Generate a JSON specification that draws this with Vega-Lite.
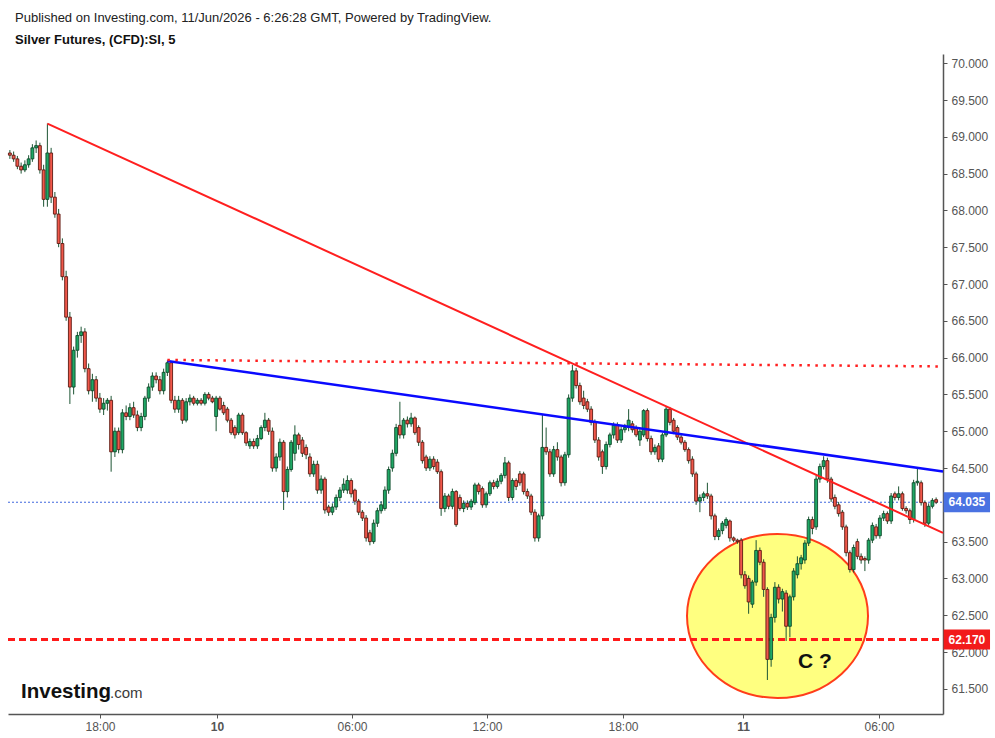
{
  "$schema": "https://vega.github.io/schema/vega-lite/v6.json",
  "width": 935,
  "height": 660,
  "autosize": "none",
  "padding": {"left": 8, "top": 54, "right": 52, "bottom": 24},
  "background": "white",
  "config": {
    "view": {"stroke": null},
    "font": "Liberation Sans",
    "axis": {"grid": false, "title": null, "labelFont": "Liberation Sans", "labelOverlap": false, "labelBound": false, "labelFlush": false}
  },
  "title": {
    "text": "Published on Investing.com, 11/Jun/2026 - 6:26:28 GMT, Powered by TradingView.",
    "subtitle": "Silver Futures, (CFD):SI, 5",
    "anchor": "start", "frame": "group", "dx": 7, "offset": 7,
    "font": "Liberation Sans", "fontSize": 13, "fontWeight": "normal", "color": "#222222",
    "subtitleFont": "Liberation Sans", "subtitleFontSize": 13, "subtitleFontWeight": "bold", "subtitleColor": "#111111", "subtitlePadding": 9
  },
  "datasets": {
    "candles": [
      {"t":0,"o":68.78,"h":68.82,"l":68.70,"c":68.75},{"t":1,"o":68.75,"h":68.80,"l":68.66,"c":68.70},{"t":2,"o":68.70,"h":68.74,"l":68.56,"c":68.60},{"t":3,"o":68.60,"h":68.65,"l":68.50,"c":68.55},
      {"t":4,"o":68.55,"h":68.68,"l":68.52,"c":68.62},{"t":5,"o":68.62,"h":68.75,"l":68.58,"c":68.70},{"t":6,"o":68.70,"h":68.90,"l":68.66,"c":68.85},{"t":7,"o":68.85,"h":68.95,"l":68.78,"c":68.88},
      {"t":8,"o":68.88,"h":68.92,"l":68.50,"c":68.55},{"t":9,"o":68.55,"h":68.62,"l":68.05,"c":68.15},{"t":10,"o":68.15,"h":69.18,"l":68.05,"c":68.78},{"t":11,"o":68.78,"h":68.85,"l":68.10,"c":68.18},
      {"t":12,"o":68.18,"h":68.25,"l":67.90,"c":67.95},{"t":13,"o":67.95,"h":68.02,"l":67.50,"c":67.55},{"t":14,"o":67.55,"h":67.62,"l":67.05,"c":67.10},{"t":15,"o":67.10,"h":67.18,"l":66.50,"c":66.55},
      {"t":16,"o":66.55,"h":66.62,"l":65.37,"c":65.60},{"t":17,"o":65.60,"h":66.15,"l":65.50,"c":66.10},{"t":18,"o":66.10,"h":66.35,"l":66.00,"c":66.30},{"t":19,"o":66.30,"h":66.42,"l":66.20,"c":66.35},
      {"t":20,"o":66.35,"h":66.40,"l":65.80,"c":65.85},{"t":21,"o":65.85,"h":65.92,"l":65.50,"c":65.55},{"t":22,"o":65.55,"h":65.78,"l":65.40,"c":65.70},{"t":23,"o":65.70,"h":65.75,"l":65.40,"c":65.45},
      {"t":24,"o":65.45,"h":65.52,"l":65.25,"c":65.30},{"t":25,"o":65.30,"h":65.45,"l":65.22,"c":65.38},{"t":26,"o":65.38,"h":65.45,"l":65.28,"c":65.42},{"t":27,"o":65.42,"h":65.48,"l":64.45,"c":64.72},
      {"t":28,"o":64.72,"h":65.05,"l":64.65,"c":65.00},{"t":29,"o":65.00,"h":65.05,"l":64.70,"c":64.75},{"t":30,"o":64.75,"h":65.30,"l":64.70,"c":65.25},{"t":31,"o":65.25,"h":65.35,"l":65.15,"c":65.20},
      {"t":32,"o":65.20,"h":65.38,"l":65.15,"c":65.32},{"t":33,"o":65.32,"h":65.40,"l":65.18,"c":65.22},{"t":34,"o":65.22,"h":65.28,"l":65.00,"c":65.05},{"t":35,"o":65.05,"h":65.25,"l":65.00,"c":65.20},
      {"t":36,"o":65.20,"h":65.48,"l":65.15,"c":65.45},{"t":37,"o":65.45,"h":65.65,"l":65.40,"c":65.60},{"t":38,"o":65.60,"h":65.80,"l":65.55,"c":65.75},{"t":39,"o":65.75,"h":65.80,"l":65.65,"c":65.70},
      {"t":40,"o":65.70,"h":65.75,"l":65.50,"c":65.55},{"t":41,"o":65.55,"h":65.85,"l":65.50,"c":65.80},{"t":42,"o":65.80,"h":65.96,"l":65.75,"c":65.93},{"t":43,"o":65.93,"h":65.95,"l":65.38,"c":65.42},
      {"t":44,"o":65.42,"h":65.48,"l":65.25,"c":65.30},{"t":45,"o":65.30,"h":65.48,"l":65.25,"c":65.42},{"t":46,"o":65.42,"h":65.45,"l":65.10,"c":65.15},{"t":47,"o":65.15,"h":65.45,"l":65.12,"c":65.40},
      {"t":48,"o":65.40,"h":65.50,"l":65.35,"c":65.45},{"t":49,"o":65.45,"h":65.48,"l":65.35,"c":65.38},{"t":50,"o":65.38,"h":65.45,"l":65.35,"c":65.42},{"t":51,"o":65.42,"h":65.45,"l":65.35,"c":65.38},
      {"t":52,"o":65.38,"h":65.53,"l":65.35,"c":65.50},{"t":53,"o":65.50,"h":65.53,"l":65.42,"c":65.45},{"t":54,"o":65.45,"h":65.48,"l":65.38,"c":65.40},{"t":55,"o":65.20,"h":65.48,"l":65.00,"c":65.45},
      {"t":56,"o":65.45,"h":65.48,"l":65.28,"c":65.30},{"t":57,"o":65.35,"h":65.40,"l":65.22,"c":65.25},{"t":58,"o":65.30,"h":65.33,"l":65.12,"c":65.15},{"t":59,"o":65.15,"h":65.18,"l":64.95,"c":64.98},
      {"t":60,"o":65.05,"h":65.08,"l":64.90,"c":64.95},{"t":61,"o":64.98,"h":65.25,"l":64.95,"c":65.22},{"t":62,"o":65.22,"h":65.25,"l":64.95,"c":64.98},{"t":63,"o":64.98,"h":65.00,"l":64.80,"c":64.84},
      {"t":64,"o":64.80,"h":64.90,"l":64.76,"c":64.86},{"t":65,"o":64.86,"h":64.90,"l":64.76,"c":64.80},{"t":66,"o":64.80,"h":64.95,"l":64.76,"c":64.90},{"t":67,"o":64.90,"h":65.08,"l":64.88,"c":65.05},
      {"t":68,"o":65.05,"h":65.25,"l":65.00,"c":65.15},{"t":69,"o":65.15,"h":65.18,"l":64.95,"c":65.00},{"t":70,"o":65.00,"h":65.05,"l":64.45,"c":64.50},{"t":71,"o":64.50,"h":64.70,"l":64.45,"c":64.65},
      {"t":72,"o":64.65,"h":64.90,"l":64.60,"c":64.85},{"t":73,"o":64.85,"h":64.88,"l":63.93,"c":64.18},{"t":74,"o":64.18,"h":64.52,"l":64.10,"c":64.48},{"t":75,"o":64.48,"h":64.88,"l":64.45,"c":64.85},
      {"t":76,"o":64.70,"h":65.08,"l":64.60,"c":64.95},{"t":77,"o":64.95,"h":64.98,"l":64.75,"c":64.82},{"t":78,"o":64.88,"h":64.92,"l":64.65,"c":64.70},{"t":79,"o":64.78,"h":64.82,"l":64.62,"c":64.68},
      {"t":80,"o":64.65,"h":64.70,"l":64.38,"c":64.42},{"t":81,"o":64.42,"h":64.60,"l":64.38,"c":64.55},{"t":82,"o":64.55,"h":64.60,"l":64.15,"c":64.20},{"t":83,"o":64.20,"h":64.40,"l":64.15,"c":64.35},
      {"t":84,"o":64.35,"h":64.38,"l":63.88,"c":63.93},{"t":85,"o":63.97,"h":64.00,"l":63.85,"c":63.90},{"t":86,"o":63.90,"h":64.02,"l":63.86,"c":63.97},{"t":87,"o":63.97,"h":64.14,"l":63.93,"c":64.10},
      {"t":88,"o":64.10,"h":64.24,"l":64.05,"c":64.20},{"t":89,"o":64.20,"h":64.36,"l":64.16,"c":64.28},{"t":90,"o":64.20,"h":64.40,"l":64.15,"c":64.33},{"t":91,"o":64.33,"h":64.36,"l":64.10,"c":64.15},
      {"t":92,"o":64.20,"h":64.22,"l":64.00,"c":64.05},{"t":93,"o":64.05,"h":64.08,"l":63.86,"c":63.90},{"t":94,"o":63.90,"h":63.93,"l":63.78,"c":63.82},{"t":95,"o":63.82,"h":63.86,"l":63.50,"c":63.55},
      {"t":96,"o":63.62,"h":63.66,"l":63.45,"c":63.50},{"t":97,"o":63.50,"h":63.80,"l":63.47,"c":63.75},{"t":98,"o":63.75,"h":63.96,"l":63.70,"c":63.92},{"t":99,"o":63.92,"h":64.05,"l":63.88,"c":64.00},
      {"t":100,"o":63.95,"h":64.25,"l":63.92,"c":64.20},{"t":101,"o":64.20,"h":64.52,"l":64.15,"c":64.48},{"t":102,"o":64.50,"h":64.75,"l":64.45,"c":64.70},{"t":103,"o":64.70,"h":65.10,"l":64.66,"c":65.05},
      {"t":104,"o":65.08,"h":65.40,"l":64.90,"c":64.95},{"t":105,"o":64.95,"h":65.18,"l":64.90,"c":65.15},{"t":106,"o":65.15,"h":65.20,"l":65.05,"c":65.10},{"t":107,"o":65.10,"h":65.25,"l":65.06,"c":65.18},
      {"t":108,"o":65.18,"h":65.20,"l":64.95,"c":64.98},{"t":109,"o":65.05,"h":65.08,"l":64.80,"c":64.85},{"t":110,"o":64.85,"h":64.88,"l":64.56,"c":64.60},{"t":111,"o":64.65,"h":64.68,"l":64.46,"c":64.50},
      {"t":112,"o":64.50,"h":64.66,"l":64.46,"c":64.62},{"t":113,"o":64.62,"h":64.66,"l":64.48,"c":64.52},{"t":114,"o":64.58,"h":64.62,"l":64.42,"c":64.45},{"t":115,"o":64.45,"h":64.48,"l":63.85,"c":63.95},
      {"t":116,"o":63.95,"h":64.16,"l":63.90,"c":64.12},{"t":117,"o":64.12,"h":64.15,"l":63.94,"c":63.98},{"t":118,"o":63.98,"h":64.22,"l":63.94,"c":64.18},{"t":119,"o":64.18,"h":64.20,"l":63.70,"c":63.73},
      {"t":120,"o":64.10,"h":64.14,"l":63.92,"c":63.95},{"t":121,"o":63.95,"h":64.06,"l":63.90,"c":64.02},{"t":122,"o":64.02,"h":64.06,"l":63.93,"c":63.97},{"t":123,"o":63.97,"h":64.08,"l":63.93,"c":64.05},
      {"t":124,"o":64.03,"h":64.30,"l":64.00,"c":64.27},{"t":125,"o":64.27,"h":64.30,"l":64.14,"c":64.18},{"t":126,"o":64.22,"h":64.25,"l":63.96,"c":64.00},{"t":127,"o":64.00,"h":64.18,"l":63.96,"c":64.15},
      {"t":128,"o":64.15,"h":64.33,"l":64.12,"c":64.30},{"t":129,"o":64.30,"h":64.34,"l":64.21,"c":64.25},{"t":130,"o":64.25,"h":64.36,"l":64.22,"c":64.32},{"t":131,"o":64.32,"h":64.43,"l":64.28,"c":64.40},
      {"t":132,"o":64.40,"h":64.65,"l":64.36,"c":64.57},{"t":133,"o":64.57,"h":64.60,"l":64.05,"c":64.10},{"t":134,"o":64.10,"h":64.36,"l":64.06,"c":64.33},{"t":135,"o":64.33,"h":64.36,"l":64.20,"c":64.25},
      {"t":136,"o":64.42,"h":64.46,"l":64.26,"c":64.30},{"t":137,"o":64.42,"h":64.45,"l":64.14,"c":64.18},{"t":138,"o":64.18,"h":64.22,"l":64.08,"c":64.12},{"t":139,"o":64.12,"h":64.15,"l":63.86,"c":63.90},
      {"t":140,"o":63.90,"h":63.94,"l":63.50,"c":63.55},{"t":141,"o":63.55,"h":63.88,"l":63.50,"c":63.85},{"t":142,"o":63.85,"h":65.22,"l":63.80,"c":64.78},{"t":143,"o":64.78,"h":65.05,"l":64.68,"c":64.72},
      {"t":144,"o":64.72,"h":64.76,"l":64.38,"c":64.42},{"t":145,"o":64.42,"h":64.80,"l":64.38,"c":64.75},{"t":146,"o":64.75,"h":64.85,"l":64.60,"c":64.65},{"t":147,"o":64.65,"h":64.68,"l":64.25,"c":64.30},
      {"t":148,"o":64.30,"h":64.72,"l":64.26,"c":64.68},{"t":149,"o":64.68,"h":65.50,"l":64.64,"c":65.45},{"t":150,"o":65.45,"h":65.90,"l":65.40,"c":65.82},{"t":151,"o":65.82,"h":65.86,"l":65.58,"c":65.62},
      {"t":152,"o":65.62,"h":65.66,"l":65.36,"c":65.40},{"t":153,"o":65.45,"h":65.55,"l":65.30,"c":65.35},{"t":154,"o":65.40,"h":65.44,"l":65.26,"c":65.30},{"t":155,"o":65.30,"h":65.34,"l":65.08,"c":65.12},
      {"t":156,"o":65.12,"h":65.16,"l":64.84,"c":64.88},{"t":157,"o":64.88,"h":64.92,"l":64.60,"c":64.65},{"t":158,"o":64.72,"h":64.75,"l":64.42,"c":64.52},{"t":159,"o":64.52,"h":64.86,"l":64.48,"c":64.82},
      {"t":160,"o":64.82,"h":64.98,"l":64.78,"c":64.95},{"t":161,"o":64.95,"h":65.12,"l":64.90,"c":65.08},{"t":162,"o":65.08,"h":65.12,"l":64.84,"c":64.88},{"t":163,"o":64.88,"h":65.06,"l":64.84,"c":65.02},
      {"t":164,"o":65.02,"h":65.10,"l":64.98,"c":65.05},{"t":165,"o":65.05,"h":65.30,"l":65.00,"c":65.15},{"t":166,"o":65.10,"h":65.14,"l":64.98,"c":65.02},{"t":167,"o":65.05,"h":65.08,"l":64.92,"c":64.95},
      {"t":168,"o":64.88,"h":65.04,"l":64.80,"c":65.00},{"t":169,"o":64.95,"h":65.30,"l":64.92,"c":65.28},{"t":170,"o":65.28,"h":65.31,"l":64.86,"c":64.90},{"t":171,"o":64.90,"h":64.94,"l":64.68,"c":64.72},
      {"t":172,"o":64.72,"h":64.82,"l":64.68,"c":64.78},{"t":173,"o":64.80,"h":64.84,"l":64.58,"c":64.62},{"t":174,"o":64.62,"h":64.98,"l":64.58,"c":64.95},{"t":175,"o":64.95,"h":65.33,"l":64.92,"c":65.30},
      {"t":176,"o":65.30,"h":65.33,"l":65.08,"c":65.12},{"t":177,"o":65.15,"h":65.18,"l":64.96,"c":65.00},{"t":178,"o":65.05,"h":65.08,"l":64.88,"c":64.92},{"t":179,"o":64.92,"h":64.96,"l":64.82,"c":64.85},
      {"t":180,"o":64.85,"h":64.88,"l":64.72,"c":64.75},{"t":181,"o":64.75,"h":64.78,"l":64.56,"c":64.60},{"t":182,"o":64.62,"h":64.66,"l":64.38,"c":64.42},{"t":183,"o":64.42,"h":64.45,"l":64.00,"c":64.05},
      {"t":184,"o":64.05,"h":64.14,"l":63.90,"c":64.10},{"t":185,"o":64.10,"h":64.18,"l":64.05,"c":64.15},{"t":186,"o":64.15,"h":64.30,"l":64.08,"c":64.12},{"t":187,"o":64.12,"h":64.15,"l":63.80,"c":63.85},
      {"t":188,"o":63.85,"h":63.88,"l":63.52,"c":63.57},{"t":189,"o":63.57,"h":63.68,"l":63.52,"c":63.65},{"t":190,"o":63.65,"h":63.78,"l":63.60,"c":63.75},{"t":191,"o":63.72,"h":63.83,"l":63.68,"c":63.80},
      {"t":192,"o":63.78,"h":63.80,"l":63.50,"c":63.55},{"t":193,"o":63.55,"h":63.57,"l":63.49,"c":63.52},{"t":194,"o":63.52,"h":63.54,"l":63.47,"c":63.50},{"t":195,"o":63.52,"h":63.55,"l":63.00,"c":63.05},
      {"t":196,"o":63.05,"h":63.10,"l":62.86,"c":62.90},{"t":197,"o":63.00,"h":63.04,"l":62.52,"c":62.68},{"t":198,"o":62.65,"h":62.98,"l":62.60,"c":62.95},{"t":199,"o":62.95,"h":63.52,"l":62.90,"c":63.38},
      {"t":200,"o":63.38,"h":63.42,"l":63.18,"c":63.22},{"t":201,"o":63.22,"h":63.26,"l":62.75,"c":62.85},{"t":202,"o":62.85,"h":62.88,"l":61.62,"c":61.90},{"t":203,"o":61.90,"h":62.52,"l":61.80,"c":62.47},
      {"t":204,"o":62.47,"h":62.95,"l":62.40,"c":62.88},{"t":205,"o":62.88,"h":62.92,"l":62.66,"c":62.72},{"t":206,"o":62.72,"h":62.86,"l":62.55,"c":62.82},{"t":207,"o":62.80,"h":62.84,"l":62.15,"c":62.35},
      {"t":208,"o":62.35,"h":62.78,"l":62.20,"c":62.75},{"t":209,"o":62.75,"h":63.14,"l":62.70,"c":63.10},{"t":210,"o":63.05,"h":63.30,"l":63.00,"c":63.20},{"t":211,"o":63.20,"h":63.32,"l":63.12,"c":63.28},
      {"t":212,"o":63.25,"h":63.52,"l":63.20,"c":63.48},{"t":213,"o":63.48,"h":63.84,"l":63.44,"c":63.80},{"t":214,"o":63.80,"h":63.84,"l":63.60,"c":63.68},{"t":215,"o":63.70,"h":64.40,"l":63.66,"c":64.35},
      {"t":216,"o":64.35,"h":64.56,"l":64.30,"c":64.52},{"t":217,"o":64.52,"h":64.66,"l":64.48,"c":64.60},{"t":218,"o":64.60,"h":64.64,"l":64.30,"c":64.35},{"t":219,"o":64.35,"h":64.38,"l":64.04,"c":64.08},
      {"t":220,"o":64.10,"h":64.14,"l":63.94,"c":63.98},{"t":221,"o":64.00,"h":64.04,"l":63.84,"c":63.88},{"t":222,"o":63.90,"h":63.93,"l":63.66,"c":63.70},{"t":223,"o":63.70,"h":63.73,"l":63.30,"c":63.35},
      {"t":224,"o":63.35,"h":63.38,"l":63.08,"c":63.12},{"t":225,"o":63.12,"h":63.46,"l":63.08,"c":63.42},{"t":226,"o":63.50,"h":63.54,"l":63.26,"c":63.30},{"t":227,"o":63.30,"h":63.34,"l":63.20,"c":63.25},
      {"t":228,"o":63.27,"h":63.30,"l":63.10,"c":63.25},{"t":229,"o":63.25,"h":63.55,"l":63.20,"c":63.52},{"t":230,"o":63.52,"h":63.76,"l":63.48,"c":63.72},{"t":231,"o":63.70,"h":63.74,"l":63.54,"c":63.58},
      {"t":232,"o":63.58,"h":63.86,"l":63.54,"c":63.82},{"t":233,"o":63.82,"h":63.92,"l":63.78,"c":63.88},{"t":234,"o":63.88,"h":63.91,"l":63.74,"c":63.78},{"t":235,"o":63.78,"h":64.16,"l":63.74,"c":64.12},
      {"t":236,"o":64.15,"h":64.18,"l":64.06,"c":64.10},{"t":237,"o":64.10,"h":64.25,"l":64.06,"c":64.15},{"t":238,"o":64.15,"h":64.18,"l":63.92,"c":63.95},{"t":239,"o":63.95,"h":63.98,"l":63.88,"c":63.92},
      {"t":240,"o":63.92,"h":63.95,"l":63.74,"c":63.80},{"t":241,"o":63.80,"h":64.34,"l":63.76,"c":64.30},{"t":242,"o":64.30,"h":64.50,"l":64.26,"c":64.32},{"t":243,"o":64.30,"h":64.33,"l":63.99,"c":64.03},
      {"t":244,"o":64.03,"h":64.06,"l":63.70,"c":63.75},{"t":245,"o":63.75,"h":64.02,"l":63.72,"c":63.98},{"t":246,"o":63.98,"h":64.09,"l":63.95,"c":64.06},{"t":247,"o":64.07,"h":64.10,"l":64.01,"c":64.035}
    ]
  },
  "layer": [
    {
      "data": {"values": [{"label": "zone"}]},
      "mark": {"type": "point", "shape": "M -1 0 A 1 0.906 0 1 1 1 0 A 1 0.906 0 1 1 -1 0 Z", "size": 32761, "filled": true, "fill": "#ffff80", "stroke": "#ff3d1a", "strokeWidth": 2, "opacity": 1},
      "encoding": {
        "x": {"datum": 204.7, "type": "quantitative", "scale": {"domain": [-0.5, 248.83], "nice": false, "zero": false, "padding": 0},
          "axis": {
            "orient": "bottom",
            "values": [24.03, 55.23, 91.23, 127.23, 163.5, 195.5, 231.77],
            "tickCount": 30,
            "labelExpr": "datum.value < 40 ? '18:00' : datum.value < 70 ? '10' : datum.value < 110 ? '06:00' : datum.value < 145 ? '12:00' : datum.value < 180 ? '18:00' : datum.value < 210 ? '11' : '06:00'",
            "labelFontWeight": {"condition": {"test": "(datum.value > 50 && datum.value < 60) || (datum.value > 190 && datum.value < 200)", "value": "bold"}, "value": "normal"},
            "labelColor": "#555555", "labelFontSize": 12, "labelPadding": 3,
            "tickSize": 4, "tickColor": "#555555", "domainColor": "#555555", "domainWidth": 1.5
          }
        },
        "y": {"datum": 62.49, "type": "quantitative", "scale": {"domain": [61.158, 70.125], "nice": false, "zero": false, "padding": 0},
          "axis": {
            "orient": "right",
            "values": [61.5, 62, 62.5, 63, 63.5, 64.5, 65, 65.5, 66, 66.5, 67, 67.5, 68, 68.5, 69, 69.5, 70],
            "tickCount": 30,
            "format": ".3f",
            "labelColor": "#555555", "labelFontSize": 12, "labelPadding": 4,
            "tickSize": 4, "tickColor": "#555555", "domainColor": "#555555", "domainWidth": 1.5
          }
        }
      }
    },
    {
      "data": {"values": [{"t": -0.5, "p": 62.17}, {"t": 248.83, "p": 62.17}]},
      "mark": {"type": "line", "color": "#ff1a1a", "strokeWidth": 3, "strokeDash": [7, 4]},
      "encoding": {
        "x": {"field": "t", "type": "quantitative"},
        "y": {"field": "p", "type": "quantitative"}
      }
    },
    {
      "data": {"values": [{"t": -0.5, "p": 64.035}, {"t": 248.83, "p": 64.035}]},
      "mark": {"type": "line", "color": "#3f66dd", "strokeWidth": 1, "strokeDash": [2, 2]},
      "encoding": {
        "x": {"field": "t", "type": "quantitative"},
        "y": {"field": "p", "type": "quantitative"}
      }
    },
    {
      "data": {"name": "candles"},
      "mark": {"type": "rule", "color": "#1d5534", "strokeWidth": 1},
      "encoding": {
        "x": {"field": "t", "type": "quantitative"},
        "y": {"field": "l", "type": "quantitative"},
        "y2": {"field": "h"}
      }
    },
    {
      "data": {"name": "candles"},
      "mark": {"type": "bar", "width": 2.9, "strokeWidth": 0.9},
      "encoding": {
        "x": {"field": "t", "type": "quantitative"},
        "y": {"field": "o", "type": "quantitative"},
        "y2": {"field": "c"},
        "fill": {"condition": {"test": "datum.c >= datum.o", "value": "#1fa865"}, "value": "#f0574a"},
        "stroke": {"condition": {"test": "datum.c >= datum.o", "value": "#0f4a2a"}, "value": "#5c1a12"}
      }
    },
    {
      "data": {"values": [{"t": 10, "p": 69.18}, {"t": 248.83, "p": 63.62}]},
      "mark": {"type": "line", "color": "#ff1f1f", "strokeWidth": 2},
      "encoding": {
        "x": {"field": "t", "type": "quantitative"},
        "y": {"field": "p", "type": "quantitative"}
      }
    },
    {
      "data": {"values": [{"t": 42, "p": 65.955}, {"t": 248.83, "p": 64.454}]},
      "mark": {"type": "line", "color": "#0a0aff", "strokeWidth": 2.5},
      "encoding": {
        "x": {"field": "t", "type": "quantitative"},
        "y": {"field": "p", "type": "quantitative"}
      }
    },
    {
      "data": {"values": [{"t": 42, "p": 65.968}, {"t": 248.83, "p": 65.88}]},
      "mark": {"type": "line", "color": "#ff1f1f", "strokeWidth": 2.5, "strokeDash": [2.5, 5.5]},
      "encoding": {
        "x": {"field": "t", "type": "quantitative"},
        "y": {"field": "p", "type": "quantitative"}
      }
    },
    {
      "data": {"values": [{"label": "64.035"}]},
      "mark": {"type": "rect", "color": "#4a72e2"},
      "encoding": {
        "x": {"datum": 249.0, "type": "quantitative"},
        "x2": {"datum": 261.37},
        "y": {"datum": 64.171, "type": "quantitative"},
        "y2": {"datum": 63.899}
      }
    },
    {
      "data": {"values": [{"label": "62.170"}]},
      "mark": {"type": "rect", "color": "#f21b1b"},
      "encoding": {
        "x": {"datum": 249.0, "type": "quantitative"},
        "x2": {"datum": 261.37},
        "y": {"datum": 62.306, "type": "quantitative"},
        "y2": {"datum": 62.034}
      }
    },
    {
      "data": {"values": [{"p": 64.035, "s": "64.035"}, {"p": 62.17, "s": "62.170"}]},
      "mark": {"type": "text", "color": "white", "fontWeight": "bold", "fontSize": 12, "align": "center", "baseline": "middle"},
      "encoding": {
        "x": {"datum": 255.2, "type": "quantitative"},
        "y": {"field": "p", "type": "quantitative"},
        "text": {"field": "s"}
      }
    },
    {
      "data": {"values": [{"s": "C ?"}]},
      "mark": {"type": "text", "color": "#111111", "fontWeight": "bold", "fontSize": 21, "align": "center", "baseline": "alphabetic"},
      "encoding": {
        "x": {"datum": 214.7, "type": "quantitative"},
        "y": {"datum": 61.78, "type": "quantitative"},
        "text": {"field": "s"}
      }
    },
    {
      "data": {"values": [{"s": "Investing"}]},
      "mark": {"type": "text", "color": "#111111", "fontWeight": "bold", "fontSize": 20.5, "align": "left", "baseline": "alphabetic"},
      "encoding": {
        "x": {"datum": 2.97, "type": "quantitative"},
        "y": {"datum": 61.375, "type": "quantitative"},
        "text": {"field": "s"}
      }
    },
    {
      "data": {"values": [{"s": ".com"}]},
      "mark": {"type": "text", "color": "#3a3a3a", "fontSize": 15, "align": "left", "baseline": "alphabetic"},
      "encoding": {
        "x": {"datum": 26.7, "type": "quantitative"},
        "y": {"datum": 61.375, "type": "quantitative"},
        "text": {"field": "s"}
      }
    }
  ]
}
